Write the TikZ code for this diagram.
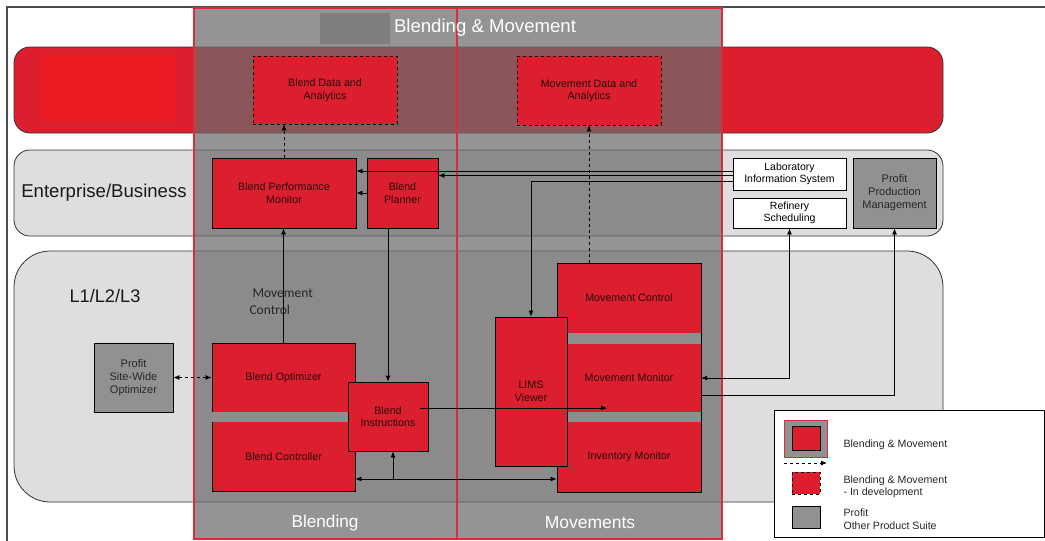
\documentclass[tikz,border=0pt]{standalone}
\usepackage{fontspec}
\setmainfont{Liberation Sans}
\newfontfamily\calfont{Carlito}
\usetikzlibrary{arrows.meta,calc}
\definecolor{bred}{HTML}{DC1F2E}
\definecolor{bbright}{HTML}{ED1C24}
\definecolor{lband}{HTML}{DEDEDE}
\definecolor{ovl}{HTML}{6C6C6C}
\definecolor{pgray}{HTML}{919191}
\definecolor{stripe}{HTML}{8E8E8E}
\definecolor{hdr}{HTML}{7F7F7F}
\definecolor{colred}{HTML}{E02A3A}
\definecolor{ntext}{HTML}{2A0A0A}
\tikzset{
  rbox/.style={draw=black, line width=0.8pt, fill=bred, text=ntext, align=center, font=\fontsize{10.7}{12.5}\selectfont, inner sep=1pt},
  devbox/.style={rbox, dashed},
  wbox/.style={draw=black, line width=0.8pt, fill=white, align=center, font=\fontsize{10.5}{12.5}\selectfont, inner sep=1pt},
  pbox/.style={draw=black, line width=0.8pt, fill=pgray, text=black!85, align=center, font=\fontsize{11}{13}\selectfont, inner sep=1pt},
  txt/.style={text=ntext, align=center, font=\fontsize{10.7}{12.5}\selectfont},
  legtxt/.style={anchor=west, align=left, font=\fontsize{10.6}{12.5}\selectfont, text=black!85},
  conn/.style={line width=0.8pt, -{Latex[length=6pt,width=5pt]}},
  dconn/.style={conn, dashed},
  biconn/.style={line width=0.8pt, {Latex[length=6pt,width=5pt]}-{Latex[length=6pt,width=5pt]}},
  band/.style={draw=black!80, line width=0.8pt},
  colframe/.style={draw=colred, line width=1.1pt},
}
\begin{document}
\begin{tikzpicture}[x=1pt,y=-1pt]
\useasboundingbox (0,0) rectangle (1045,541);
\fill[white] (0,0) rectangle (1045,541);
% frame
\draw[black!70, line width=1.2pt] (7,541) -- (7,7) -- (1045,7);
% bands
\draw[band, fill=bred, rounded corners=16pt] (14,47) rectangle (943,133);
\fill[bbright] (40,55) rectangle (175,121);
\draw[band, fill=lband, rounded corners=16pt] (14,150) rectangle (943,236);
\draw[band, fill=lband, rounded corners=36pt] (14,251) rectangle (943,502);
% overlay columns
\fill[ovl, opacity=0.72] (194,8) rectangle (722,539);
\fill[hdr] (320,13) rectangle (390,44);
\draw[colframe] (194,8) rectangle (457,539);
\draw[colframe] (457,8) rectangle (722,539);
\node[text=white, font=\fontsize{18.6}{20}\selectfont] (title) at (485,28) {Blending \& Movement};
\node[text=white, font=\fontsize{17.2}{19}\selectfont] (lblblend) at (325,523) {Blending};
\node[text=white, font=\fontsize{17.5}{19}\selectfont] (lblmove) at (590,523) {Movements};
% band labels
\node[font=\fontsize{18.6}{20}\selectfont, text=black!90] (ent) at (104,193) {Enterprise/Business};
\node[font=\fontsize{18.2}{20}\selectfont, text=black!90] (lvl) at (105,296) {L1/L2/L3};
\node[font=\calfont\fontsize{13.5}{17}\selectfont, text=black!85, align=left, anchor=north west] (mvctl) at (246,285.5) {\hspace*{3pt}Movement\\Control};
% top nodes
\node[devbox, minimum width=144, minimum height=68] (bda) at (325,90) {Blend Data and\\Analytics};
\node[devbox, minimum width=144, minimum height=69] (mda) at (589,90.5) {Movement Data and\\Analytics};
% enterprise nodes
\node[rbox, minimum width=144, minimum height=70] (bpm) at (284,193) {Blend Performance\\Monitor};
\node[rbox, minimum width=71, minimum height=70] (bpl) at (402.5,193) {Blend\\Planner};
\node[wbox, minimum width=113, minimum height=32] (lis) at (789.5,174) {Laboratory\\Information System};
\node[wbox, minimum width=113, minimum height=30] (rs) at (789.5,213) {Refinery\\Scheduling};
\node[pbox, minimum width=83, minimum height=70] (ppm) at (894.5,193) {Profit\\Production\\Management};
% L1/L2/L3 nodes
\node[pbox, minimum width=79, minimum height=69] (pswo) at (133.5,377.5) {Profit\\Site-Wide\\Optimizer};
\node[rbox, minimum width=143, minimum height=148] (blendbox) at (283.5,417) {};
\fill[stripe] ([xshift=0.4pt]blendbox.west |- 0,412) rectangle ([xshift=-0.4pt]blendbox.east |- 0,422);
\node[txt] (bo) at (283.5,377.5) {Blend Optimizer};
\node[txt] (bc) at (283.5,456.5) {Blend Controller};
\node[rbox, minimum width=144, minimum height=229] (mvbox) at (629,377.5) {};
\fill[stripe] ([xshift=0.4pt]mvbox.west |- 0,333) rectangle ([xshift=-0.4pt]mvbox.east |- 0,344);
\fill[stripe] ([xshift=0.4pt]mvbox.west |- 0,412) rectangle ([xshift=-0.4pt]mvbox.east |- 0,422);
\node[txt] (mc) at (629,298) {Movement Control};
\node[txt, minimum width=144] (mm) at (629,378) {Movement Monitor};
\node[txt] (im) at (629,457) {Inventory Monitor};
\node[rbox, minimum width=72, minimum height=149] (lims) at (531,391.5) {LIMS\\Viewer};
\node[rbox, minimum width=80, minimum height=69] (bi) at (388,416.5) {Blend\\Instructions};
% helper coordinates
\coordinate (y171) at (0,171);
\coordinate (y175) at (0,175.5);
\coordinate (y181) at (0,181.5);
\coordinate (y395) at (0,395);
\coordinate (y408) at (0,408);
\coordinate (y479) at (0,479);
\coordinate (bistart) at (420,408);
\coordinate (mmtip) at (607,408);
% connectors
\draw[dconn] (bpm.north) -- (bpm.north |- bda.south);
\draw[dconn] (mda.south |- mvbox.north) -- (mda.south);
\draw[conn] (lis.west |- y171) -- (bpm.east |- y171);
\draw[conn] (lis.west |- y175) -- (bpl.east |- y175);
\draw[conn] (lis.west |- y181) -| (lims.north);
\draw[conn] (bpl.west) -- (bpm.east);
\draw[conn] (bi.north |- bpl.south) -- (bi.north);
\draw[conn] (bo.north |- blendbox.north) -- (bo.north |- bpm.south);
\draw[dconn, {Latex[length=6pt,width=5pt]}-{Latex[length=6pt,width=5pt]}] (pswo.east) -- (blendbox.west |- pswo.east);
\draw[conn] (bistart) -- (mmtip);
\draw[biconn] (blendbox.east |- y479) -- (mvbox.west |- y479);
\draw[conn] ([xshift=5pt]bi.south |- y479) -- ([xshift=5pt]bi.south);
\draw[biconn] (rs.south) |- (mm.east);
\draw[conn] (mvbox.east |- y395) -| (ppm.south);
% legend
\draw[black, line width=0.8pt, fill=white] (774,410) rectangle (1044.5,537);
\draw[colred, line width=0.8pt, fill=pgray] (784,420) rectangle (827,457);
\node[rbox, minimum width=28, minimum height=24] (lg1) at (806,438) {};
\node[legtxt] (lt1) at (840,445) {Blending \& Movement};
\coordinate (la) at (784,463);
\coordinate (lb) at (827,463);
\draw[dconn] (la) -- (lb);
\node[devbox, minimum width=28, minimum height=22] (lg2) at (806,483) {};
\node[legtxt] (lt2) at (840,487) {Blending \& Movement\\- In development};
\node[pbox, minimum width=28, minimum height=22] (lg3) at (806,517) {};
\node[legtxt] (lt3) at (840,519) {Profit\\Other Product Suite};
\end{tikzpicture}
\end{document}
